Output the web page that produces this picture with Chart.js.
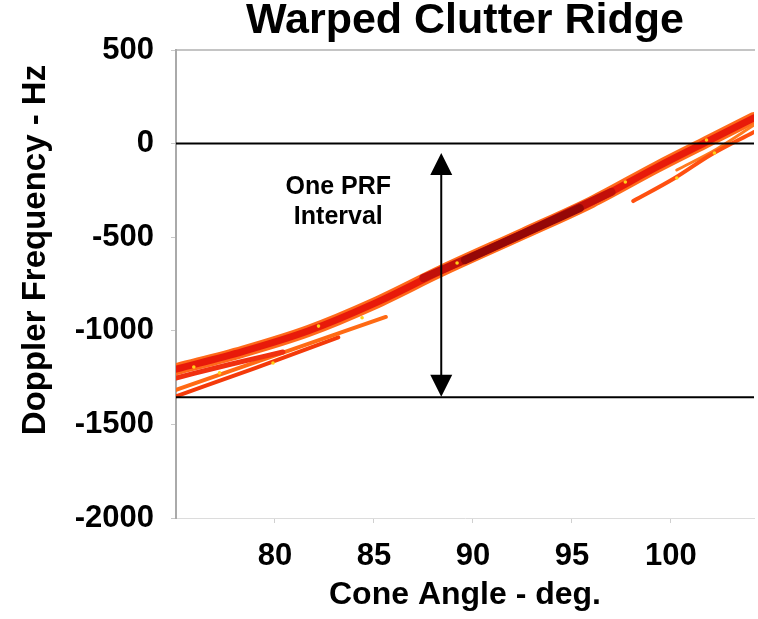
<!DOCTYPE html>
<html>
<head>
<meta charset="utf-8">
<title>Warped Clutter Ridge</title>
<script src="https://cdn.jsdelivr.net/npm/chart.js@4.4.0/dist/chart.umd.min.js"></script>
<style>
    html, body { margin: 0; padding: 0; background: #fff; }
    #wrap { width: 758px; height: 619px; }
</style>
</head>
<body>
<div id="wrap"><canvas id="ridgeChart" width="758" height="619"></canvas></div>
<script>
// axis ticks
const xTicks = [80, 85, 90, 95, 100];
const yTicks = [500, 0, -500, -1000, -1500, -2000];

// main clutter ridge (cone angle deg, doppler Hz)
const ridgeAngle   = [75, 78.4, 81.7, 85, 88.4, 92.6, 96, 99.3, 101.8, 104.2];
const ridgeDoppler = [-1205, -1110, -1000, -855, -680, -478, -312, -125, 9, 137];

// stronger middle part of the ridge, and its darkest core
const strongAngle   = [87.5, 92.6, 97];
const strongDoppler = [-718, -478, -258];
const coreAngle     = [89.6, 92.6, 95.4];
const coreDoppler   = [-622, -478, -345];

// weaker streaks, lower left
const streak1Angle   = [75, 80.3, 85.6];
const streak1Doppler = [-1316, -1121, -926];
const streak2Angle   = [75, 79, 83.2];
const streak2Doppler = [-1350, -1199, -1035];
const streak3Angle   = [75, 77.7, 80.4];
const streak3Doppler = [-1252, -1180, -1113];

// weaker streaks, upper right
const streak4Angle   = [98.1, 100.2, 102, 104.2];
const streak4Doppler = [-307, -184, -61, 62];
const streak5Angle   = [100.3, 102.3, 104.2];
const streak5Doppler = [-141, -30, 99];

// bright (yellow) spots along the ridge
const hotAngle   = [75.9, 77.2, 79.9, 82.2, 84.4, 89.2, 97.7, 100.3, 101.8, 102.2];
const hotDoppler = [-1193, -1225, -1172, -975, -930, -638, -205, -184, 19, -50];

// one PRF interval
const prfLevels = [0, -1355];
const arrowAngle = 88.4;
const arrowTop = -50;
const arrowBottom = -1352;

const fontFamily = '"Liberation Sans", Arial, Helvetica, sans-serif';

function pts(xs, ys) {
    return xs.map((v, i) => ({ x: v, y: ys[i] }));
}

function band(xs, ys, color, width, order) {
    return {
        data: pts(xs, ys),
        borderColor: color,
        borderWidth: width,
        pointRadius: 0,
        tension: 0.4,
        cubicInterpolationMode: 'monotone',
        borderCapStyle: 'round',
        order: order
    };
}

const datasets = [];
prfLevels.forEach(level => {
    datasets.push({
        data: [{ x: 75, y: level }, { x: 104.2, y: level }],
        borderColor: '#000',
        borderWidth: 2,
        pointRadius: 0,
        order: 0
    });
});
datasets.push({
    data: pts(hotAngle, hotDoppler),
    showLine: false,
    pointRadius: 1.8,
    pointBorderWidth: 0,
    pointBackgroundColor: '#ffd21a',
    order: 1
});
datasets.push(band(coreAngle, coreDoppler, '#950707', 8, 2));
datasets.push(band(strongAngle, strongDoppler, '#c2100a', 8, 3));
datasets.push(band(ridgeAngle, ridgeDoppler, '#e81a0a', 7, 4));
datasets.push(band(streak4Angle, streak4Doppler, '#ff5010', 4, 5));
datasets.push(band(streak5Angle, streak5Doppler, '#ff7a20', 3, 5));
datasets.push(band(streak3Angle, streak3Doppler, '#f03010', 5, 5));
datasets.push(band(streak1Angle, streak1Doppler, '#ff6a14', 4, 5));
datasets.push(band(streak2Angle, streak2Doppler, '#f43a0a', 4, 5));
datasets.push(band(ridgeAngle, ridgeDoppler, '#ff6a1a', 12, 6));

// arrow, "One PRF Interval" label and y axis title
const prfArrow = {
    id: 'prfArrow',
    afterDatasetsDraw(chart) {
        const { ctx, chartArea, scales: { x, y } } = chart;
        const px = x.getPixelForValue(arrowAngle);
        const top = y.getPixelForValue(arrowTop);
        const bot = y.getPixelForValue(arrowBottom);
        const head = 22;
        const half = 11;
        ctx.save();
        ctx.strokeStyle = '#000';
        ctx.fillStyle = '#000';
        ctx.lineWidth = 2;
        ctx.beginPath();
        ctx.moveTo(px, top + head - 2);
        ctx.lineTo(px, bot - head + 2);
        ctx.stroke();
        ctx.beginPath();
        ctx.moveTo(px, top);
        ctx.lineTo(px - half, top + head);
        ctx.lineTo(px + half, top + head);
        ctx.closePath();
        ctx.fill();
        ctx.beginPath();
        ctx.moveTo(px, bot);
        ctx.lineTo(px - half, bot - head);
        ctx.lineTo(px + half, bot - head);
        ctx.closePath();
        ctx.fill();

        ctx.font = 'bold 25px ' + fontFamily;
        ctx.textAlign = 'center';
        ctx.textBaseline = 'middle';
        const lx = x.getPixelForValue(83.2);
        ctx.fillText('One PRF', lx, y.getPixelForValue(-234));
        ctx.fillText('Interval', lx, y.getPixelForValue(-392));

        // y axis title, sits a bit above the middle of the axis
        ctx.font = 'bold 33px ' + fontFamily;
        ctx.translate(36, chartArea.top + 200);
        ctx.rotate(-Math.PI / 2);
        ctx.fillText('Doppler Frequency - Hz', 0, 0);
        ctx.restore();
    }
};

const ctx = document.getElementById('ridgeChart').getContext('2d');
new Chart(ctx, {
    type: 'line',
    data: { datasets: datasets },
    options: {
        responsive: false,
        animation: false,
        devicePixelRatio: 1,
        layout: { padding: 0 },
        plugins: {
            legend: { display: false },
            tooltip: { enabled: false },
            title: {
                display: true,
                text: 'Warped Clutter Ridge',
                fullSize: false,
                color: '#000',
                font: { family: fontFamily, size: 43, weight: 'bold', lineHeight: 1 },
                padding: { top: 0, bottom: 7 }
            }
        },
        scales: {
            x: {
                type: 'linear',
                min: 75,
                max: 104.2,
                afterBuildTicks: s => { s.ticks = xTicks.map(v => ({ value: v })); },
                afterFit: s => { s.height = 101; },
                ticks: {
                    color: '#000',
                    font: { family: fontFamily, size: 31, weight: 'bold' },
                    padding: 15,
                    maxRotation: 0,
                    callback: v => String(v)
                },
                grid: { drawOnChartArea: false, drawTicks: true, tickLength: 5, color: '#d0d0d0' },
                border: { color: '#dcdcdc', width: 1 },
                title: {
                    display: true,
                    text: 'Cone Angle - deg.',
                    color: '#000',
                    font: { family: fontFamily, size: 32, weight: 'bold' },
                    padding: { top: 0, bottom: 5 }
                }
            },
            xTop: {
                type: 'linear',
                position: 'top',
                min: 75,
                max: 104.2,
                afterFit: s => { s.height = 0; },
                ticks: { display: false },
                grid: { drawOnChartArea: false, drawTicks: false },
                border: { color: '#c4c4c4', width: 2 }
            },
            y: {
                type: 'linear',
                min: -2000,
                max: 500,
                afterBuildTicks: s => { s.ticks = yTicks.map(v => ({ value: v })); },
                afterFit: s => { s.width = 176; },
                ticks: {
                    color: '#000',
                    font: { family: fontFamily, size: 31, weight: 'bold' },
                    padding: 17,
                    callback: v => String(v)
                },
                grid: { drawOnChartArea: false, drawTicks: true, tickLength: 5, color: '#c8c8c8' },
                border: { color: '#aaaaaa', width: 2 }
            }
        }
    },
    plugins: [prfArrow]
});
</script>
</body>
</html>
